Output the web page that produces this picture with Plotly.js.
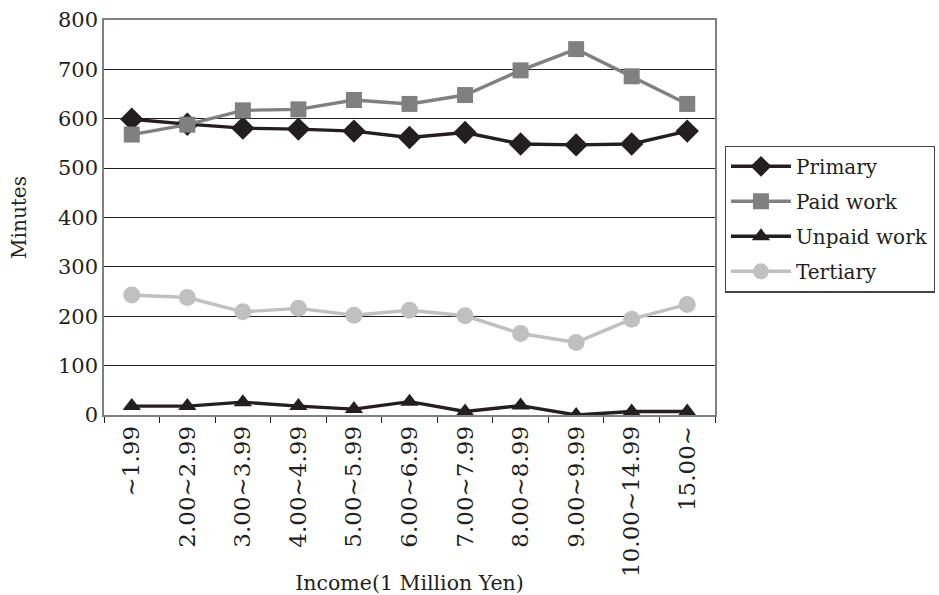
<!DOCTYPE html>
<html>
<head>
<meta charset="utf-8">
<script src="https://cdn.plot.ly/plotly-3.0.1.min.js"></script>
<style>html,body{margin:0;padding:0;background:#fff;}#chart{width:939px;height:595px;}</style>
</head>
<body>
<div id="chart"></div>
<script>
var categories = ["∼1.99","2.00∼2.99","3.00∼3.99","4.00∼4.99","5.00∼5.99","6.00∼6.99","7.00∼7.99","8.00∼8.99","9.00∼9.99","10.00∼14.99","15.00∼"];
var primary = [599, 589, 581, 579, 575, 562, 572, 549, 547, 549, 575];
var paidWork = [568, 588, 617, 619, 638, 630, 648, 698, 741, 686, 630];
var unpaidWork = [18, 18, 26, 18, 12, 27, 7, 19, 0, 7, 7];
var tertiary = [243, 238, 209, 216, 202, 212, 201, 165, 147, 194, 224];
var seriesNames = ["Primary", "Paid work", "Unpaid work", "Tertiary"];
var yTicks = [0, 100, 200, 300, 400, 500, 600, 700, 800];

var font = "'DejaVu Serif', 'Liberation Serif', serif";
function tr(y, name, color, sym, size, grp) {
  return {x: categories, y: y, name: name, type: "scatter", mode: "lines+markers",
    legendgroup: grp,
    line: {color: color, width: 3.4},
    marker: {symbol: sym, size: size, color: color}};
}
var data = [
  tr(primary, seriesNames[0], "#231f20", "diamond", 18, "a"),
  tr(paidWork, seriesNames[1], "#808080", "square", 16, "b"),
  tr(unpaidWork, seriesNames[2], "#231f20", "triangle-up", 16, "c"),
  tr(tertiary, seriesNames[3], "#c0c0c0", "circle", 17, "d")
];
var layout = {
  width: 939, height: 595,
  margin: {l: 104, r: 224, t: 20, b: 180, autoexpand: false},
  paper_bgcolor: "#fff", plot_bgcolor: "#fff",
  font: {family: font, size: 20, color: "#231f20"},
  showlegend: true,
  legend: {x: 1.016, y: 0.682, xanchor: "left", yanchor: "top",
    bordercolor: "#444", borderwidth: 1.2, bgcolor: "#fff",
    font: {family: font, size: 20, color: "#231f20"},
    itemwidth: 60,
    traceorder: "grouped", tracegroupgap: 6},
  xaxis: {type: "category", range: [-0.5, 10.5], tickangle: -90, tickson: "boundaries", ticks: "outside",
    ticklen: 6, tickcolor: "#231f20", showgrid: false, showline: true, linecolor: "#808080", linewidth: 1.5,
    mirror: true, tickfont: {family: font, size: 23},
    title: {text: "Income(1 Million Yen)", font: {family: font, size: 20.5}, standoff: 2}},
  yaxis: {range: [0, 800], tickvals: yTicks, ticks: "", showline: true, linecolor: "#808080", linewidth: 1.5,
    mirror: true, gridcolor: "#231f20", gridwidth: 1.2, zeroline: false,
    tickfont: {family: font, size: 21},
    title: {text: "Minutes", font: {family: font, size: 20}, standoff: 26}}
};
Plotly.newPlot("chart", data, layout, {displayModeBar: false});
</script>
</body>
</html>
